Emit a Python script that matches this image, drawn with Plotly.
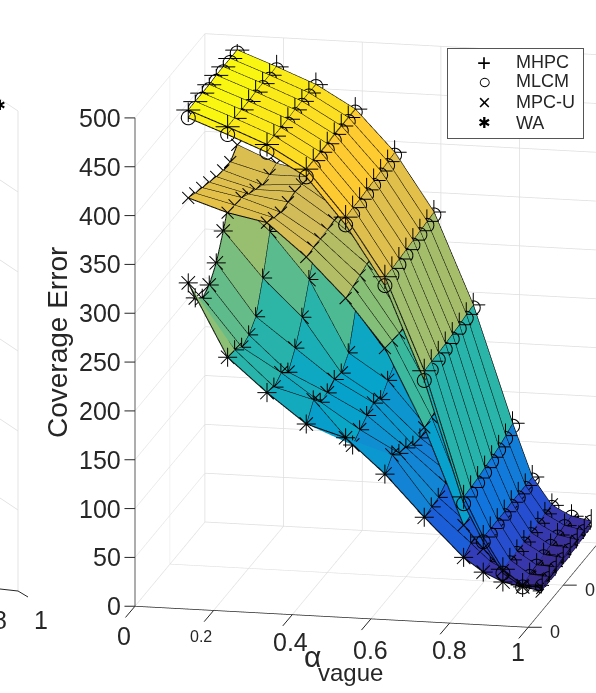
import numpy as np
import plotly.graph_objects as go

alpha_vague = [0.1, 0.2, 0.3, 0.4, 0.5, 0.6, 0.7, 0.8, 0.85, 0.9, 0.95, 1.0]
alpha_other = [0.2, 0.3, 0.4, 0.5, 0.6, 0.7, 0.8, 0.9]

# one list per alpha_vague value, one entry per alpha_other value
mhpc = [
    [493, 493, 493, 493, 494, 494, 494, 494],
    [478, 478, 478, 478, 479, 479, 479, 479],
    [462, 462, 462, 462, 463, 463, 463, 463],
    [439, 439, 439, 439, 440, 440, 440, 440],
    [392, 393, 393, 394, 395, 396, 397, 398],
    [333, 333, 334, 335, 336, 337, 338, 339],
    [239, 240, 240, 241, 242, 243, 245, 246],
    [112, 113, 114, 116, 118, 120, 123, 127],
    [72, 72, 72, 72, 73, 73, 73, 73],
    [40, 41, 41, 42, 43, 44, 45, 45],
    [25, 27, 28, 30, 31, 33, 34, 35],
    [26, 26, 27, 28, 29, 29, 30, 31],
]
mlcm = [
    [485, 486, 487, 488, 488, 489, 490, 491],
    [470, 471, 472, 473, 474, 475, 475, 476],
    [454, 455, 456, 457, 458, 459, 460, 461],
    [431, 432, 433, 433, 434, 435, 436, 437],
    [384, 386, 387, 389, 390, 392, 393, 395],
    [324, 326, 328, 329, 331, 333, 334, 336],
    [229, 231, 233, 235, 237, 239, 241, 243],
    [105, 107, 109, 111, 114, 117, 120, 124],
    [67, 66, 67, 68, 69, 69, 70, 70],
    [36, 38, 39, 40, 41, 42, 42, 43],
    [23, 25, 27, 28, 30, 31, 33, 34],
    [25, 24, 26, 26, 27, 28, 29, 30],
]
mpc_u = [
    [403, 399, 396, 393, 390, 388, 388, 397],
    [390, 389, 388, 383, 379, 375, 377, 380],
    [382, 378, 375, 377, 379, 378, 377, 372],
    [349, 350, 350, 351, 352, 352, 350, 345],
    [309, 312, 315, 318, 320, 320, 318, 315],
    [260, 259, 258, 260, 262, 262, 260, 258],
    [181, 183, 186, 188, 190, 190, 190, 190],
    [83, 85, 88, 90, 92, 92, 94, 95],
    [60, 60, 62, 62, 63, 64, 65, 66],
    [39, 40, 41, 42, 43, 44, 45, 46],
    [25, 26, 27, 28, 29, 30, 31, 32],
    [23, 24, 25, 26, 27, 28, 29, 30],
]
wa = [
    [316, 292, 283, 288, 302, 326, 354, 376],
    [242, 241, 235, 239, 249, 280, 319, 353],
    [208, 205, 211, 203, 219, 242, 272, 301],
    [178, 194, 183, 184, 189, 187, 199, 234],
    [166, 150, 157, 163, 167, 162, 173, 182],
    [131, 142, 135, 132, 126, 125, 127, 136],
    [89, 91, 92, 98, 97, 96, 96, 99],
    [50, 56, 58, 60, 58, 60, 62, 64],
    [36, 38, 40, 41, 42, 43, 44, 45],
    [27, 28, 29, 30, 31, 32, 33, 34],
    [23, 24, 24, 25, 25, 26, 27, 28],
    [20, 21, 21, 22, 22, 23, 24, 25],
]

series_names = ["MHPC", "MLCM", "MPC-U", "WA"]
legend_glyphs = ["+", "○", "×", "✱"]
x_ticks = [0, 0.2, 0.4, 0.6, 0.8, 1]
x_tick_text = ["0", "0.2", "0.4", "0.6", "0.8", "1"]
y_ticks = [0, 0.5, 1]
y_tick_text = ["0", "0.5", "1"]
z_ticks = [0, 50, 100, 150, 200, 250, 300, 350, 400, 450, 500]

parula = [[0, "#352a87"], [0.05, "#382c90"], [0.07, "#3a34a5"], [0.13, "#2a48cc"],
          [0.21, "#0f6fe0"], [0.25, "#1481d6"], [0.375, "#06a4ca"], [0.5, "#2eb7a4"],
          [0.625, "#87bf77"], [0.75, "#d1bb59"], [0.875, "#fec832"], [1, "#f9fb0e"]]
INK = "#262626"
FONT = "Liberation Sans"
ASPECT = (1.16, 0.979, 1.457)
RANGES = (1.0, 1.0, 500.0)
PX_PER_UNIT = 346.0
W, H = 596, 693


def fx(p):
    return p / W


def fy(p):
    return 1 - p / H


phi, elev = np.radians(11.9), np.radians(14.7)
view = np.array([np.sin(phi) * np.cos(elev), -np.cos(phi) * np.cos(elev), np.sin(elev)])
right = np.array([np.cos(phi), np.sin(phi), 0])
up = np.array([-np.sin(phi) * np.sin(elev), np.cos(phi) * np.sin(elev), np.cos(elev)])
center = right * (-68.5 / PX_PER_UNIT) + up * (-16 / PX_PER_UNIT)
eye = center + view * 1.0

fig = go.Figure()


def glyph_strokes(name):
    """Marker outline as strokes in screen pixels around a point."""
    if name == "MHPC":
        return [[(-12, 0), (12, 0)], [(0, -12), (0, 12)]]
    if name == "MPC-U":
        return [[(-6, -6), (6, 6)], [(-6, 6), (6, -6)]]
    if name == "WA":
        a, b = 9.5, 6.7
        return [[(-a, 0), (a, 0)], [(0, -a), (0, a)], [(-b, -b), (b, b)], [(-b, b), (b, -b)]]
    t = np.linspace(0, 2 * np.pi, 21)
    return [list(zip(7 * np.cos(t), 7 * np.sin(t)))]


def add_markers(name, XX, YY, Z):
    strokes = glyph_strokes(name)
    mx, my, mz = [], [], []
    for px, py, pz in zip(XX.ravel(), YY.ravel(), Z.ravel()):
        for stroke in strokes:
            for sx, sy in stroke:
                w = (right * sx + up * sy) / PX_PER_UNIT
                mx.append(px + w[0] / ASPECT[0] * RANGES[0])
                my.append(py + w[1] / ASPECT[1] * RANGES[1])
                mz.append(pz + w[2] / ASPECT[2] * RANGES[2])
            mx.append(None); my.append(None); mz.append(None)
    fig.add_trace(go.Scatter3d(x=mx, y=my, z=mz, mode="lines", name=name,
                               line=dict(color="black", width=2),
                               showlegend=False, hoverinfo="skip"))


def add_series(name, cols):
    Z = np.array(cols, dtype=float)
    nx, ny = Z.shape
    XX, YY = np.meshgrid(alpha_vague, alpha_other, indexing="ij")
    idx = lambda a, b: a * ny + b
    i, j, k, cell = [], [], [], []
    for a in range(nx - 1):
        for b in range(ny - 1):
            i += [idx(a, b), idx(a, b)]
            j += [idx(a + 1, b), idx(a + 1, b + 1)]
            k += [idx(a + 1, b + 1), idx(a, b + 1)]
            cell += [Z[a, b], Z[a, b]]
    fig.add_trace(go.Mesh3d(
        x=XX.ravel(), y=YY.ravel(), z=Z.ravel(), i=i, j=j, k=k,
        intensity=cell, intensitymode="cell", colorscale=parula,
        cmin=0, cmax=500, showscale=False, flatshading=True,
        lighting=dict(ambient=1, diffuse=0, specular=0, fresnel=0, roughness=1),
        name=name, hoverinfo="skip"))
    lx, ly, lz = [], [], []
    for a in range(nx):
        lx += list(XX[a]) + [None]; ly += list(YY[a]) + [None]; lz += list(Z[a]) + [None]
    for b in range(ny):
        lx += list(XX[:, b]) + [None]; ly += list(YY[:, b]) + [None]; lz += list(Z[:, b]) + [None]
    fig.add_trace(go.Scatter3d(x=lx, y=ly, z=lz, mode="lines",
                               line=dict(color="black", width=2),
                               showlegend=False, hoverinfo="skip"))
    add_markers(name, XX, YY, Z)


for nm, data in zip(series_names, [mhpc, mlcm, mpc_u, wa]):
    add_series(nm, data)

axis_common = dict(showbackground=False, showspikes=False, gridcolor="#dedede", gridwidth=1.5,
                   showline=True, linecolor=INK, linewidth=1.5, zeroline=False,
                   ticks="", showticklabels=False, title=dict(text=""))


def tick_mark(x, y, z, ax, ay):
    return dict(x=x, y=y, z=z, text=" ", showarrow=True, arrowhead=0, arrowwidth=1,
                arrowcolor=INK, ax=ax, ay=ay, standoff=0, startstandoff=0,
                font=dict(size=1))


x_shift = [(-11, 30), (-13, 26), (-2, 27), (0, 31), (0, 27), (-10, 25)]
x_sizes = [25, 16, 25, 25, 25, 25]
ann3d = []
for t, s, (dx, dy), fs in zip(x_ticks, x_tick_text, x_shift, x_sizes):
    ann3d.append(tick_mark(t, 0, 0, -11, 13))
    ann3d.append(dict(x=t, y=0, z=0, text=s, showarrow=False, xshift=dx, yshift=-dy,
                      font=dict(size=fs, color=INK, family=FONT)))
for t in z_ticks:
    ann3d.append(tick_mark(0, 0, t, -12, 0))
    ann3d.append(dict(x=0, y=0, z=t, text=str(t), showarrow=False, xanchor="right",
                      xshift=-12, font=dict(size=25, color=INK, family=FONT)))
for t, s in zip(y_ticks, y_tick_text):
    ann3d.append(tick_mark(1, t, 0, 15, 0))
    ann3d.append(dict(x=1, y=t, z=0, text=s, showarrow=False, xanchor="left",
                      xshift=20, yshift=-5, font=dict(size=18, color=INK, family=FONT)))

# the neighbouring panel, cut off by the left edge of the picture
neighbour_shapes = [
    dict(type="line", xref="paper", yref="paper", x0=fx(18), x1=fx(18),
         y0=fy(111), y1=fy(591), line=dict(color="#e3e3e3", width=1)),
    dict(type="line", xref="paper", yref="paper", x0=0, x1=fx(18),
         y0=fy(589), y1=fy(591), line=dict(color="#262626", width=1)),
    dict(type="line", xref="paper", yref="paper", x0=fx(18), x1=fx(28),
         y0=fy(591), y1=fy(597), line=dict(color="#262626", width=1)),
]
for gy in [111, 192, 272, 351, 431, 510]:
    neighbour_shapes.append(dict(type="line", xref="paper", yref="paper", x0=0, x1=fx(18),
                                 y0=fy(gy - 12), y1=fy(gy),
                                 line=dict(color="#e3e3e3", width=1)))

notes = [
    dict(x=fx(57), y=fy(343), xref="paper", yref="paper", text="Coverage Error",
         xanchor="center", yanchor="middle", textangle=-90, showarrow=False,
         font=dict(size=28, color=INK, family=FONT)),
    dict(x=fx(312), y=fy(656), xref="paper", yref="paper", text="α",
         xanchor="center", yanchor="middle", showarrow=False,
         font=dict(size=30, color=INK, family=FONT)),
    dict(x=fx(316), y=fy(672), xref="paper", yref="paper", text="vague",
         xanchor="left", yanchor="middle", showarrow=False,
         font=dict(size=24, color=INK, family=FONT)),
    dict(x=fx(41), y=fy(620), xref="paper", yref="paper", text="1",
         xanchor="center", yanchor="middle", showarrow=False,
         font=dict(size=25, color=INK, family=FONT)),
    dict(x=0, y=fy(620), xref="paper", yref="paper", text="8",
         xanchor="center", yanchor="middle", showarrow=False,
         font=dict(size=25, color=INK, family=FONT)),
    dict(x=0, y=fy(105), xref="paper", yref="paper", text="✱",
         xanchor="center", yanchor="middle", showarrow=False,
         font=dict(size=14, color="black")),
    # legend box
    dict(x=fx(447), y=fy(48), xref="paper", yref="paper", text=" ", xanchor="left", yanchor="top",
         showarrow=False, width=135, height=89, bgcolor="white", bordercolor="#555555",
         borderwidth=1, borderpad=0),
]
legend_rows = [62, 81, 102, 123]
legend_glyph_sizes = [24, 22, 22, 15]
for name, glyph, gsize, row in zip(series_names, legend_glyphs, legend_glyph_sizes, legend_rows):
    notes.append(dict(x=fx(484), y=fy(row), xref="paper", yref="paper", text=glyph,
                      xanchor="center", yanchor="middle", showarrow=False,
                      font=dict(size=gsize, color="black", family=FONT)))
    notes.append(dict(x=fx(514), y=fy(row), xref="paper", yref="paper", text=name,
                      xanchor="left", yanchor="middle", showarrow=False,
                      font=dict(size=18, color=INK, family=FONT)))

fig.update_layout(
    width=W, height=H, margin=dict(l=0, r=0, t=0, b=0, autoexpand=False),
    paper_bgcolor="white", plot_bgcolor="white",
    font=dict(family=FONT, color=INK),
    showlegend=False,
    shapes=neighbour_shapes,
    scene=dict(
        domain=dict(x=[0, 1], y=[0, 1]),
        aspectmode="manual", aspectratio=dict(x=ASPECT[0], y=ASPECT[1], z=ASPECT[2]),
        camera=dict(projection=dict(type="orthographic"),
                    up=dict(x=0, y=0, z=1),
                    center=dict(x=center[0], y=center[1], z=center[2]),
                    eye=dict(x=eye[0], y=eye[1], z=eye[2])),
        xaxis=dict(range=[0, 1], tickvals=x_ticks, **axis_common),
        yaxis=dict(range=[0, 1], tickvals=y_ticks, **axis_common),
        zaxis=dict(range=[0, 500], tickvals=z_ticks, **axis_common),
        annotations=ann3d,
    ),
    annotations=notes,
)
fig.write_html("out.html", config=dict(displayModeBar=False),
               post_script="document.body.style.margin='0';document.body.style.overflow='hidden';")
